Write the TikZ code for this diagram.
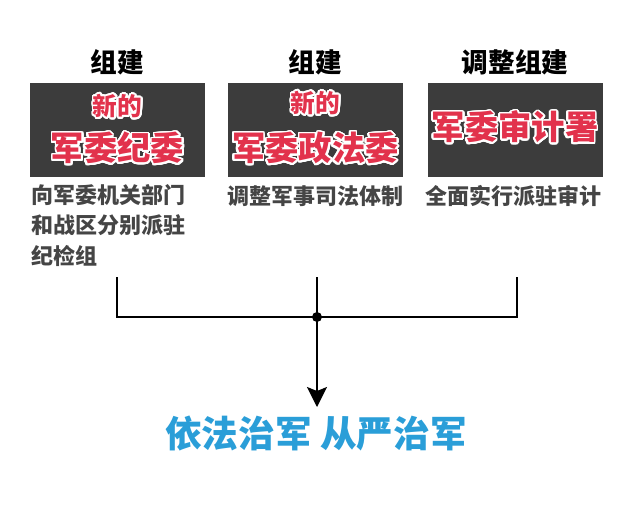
\documentclass[tikz,border=0pt]{standalone}
\usepackage{fontspec}
\setmainfont{Noto Sans CJK SC}
\usepackage{contour}
\usetikzlibrary{positioning, arrows.meta}
\definecolor{boxgray}{HTML}{3C3C3C}
\definecolor{tred}{HTML}{E2324C}
\definecolor{descgray}{HTML}{454545}
\definecolor{goalblue}{HTML}{2A9ED8}
\contourlength{1.3pt}
\contournumber{32}
\newcommand\redword[1]{\contour{white}{\textcolor{tred}{#1}}}

\begin{document}
\begin{tikzpicture}[x=0.75pt, y=-0.75pt,
  unit/.style={fill=boxgray, minimum width=131.25pt, minimum height=70.5pt, inner sep=0pt},
  head/.style={font=\fontsize{20}{22}\selectfont\bfseries, text=black, inner sep=0pt},
  small/.style={font=\fontsize{18.5}{20}\selectfont\bfseries, inner sep=0pt},
  big/.style={font=\fontsize{25}{27}\selectfont\bfseries, inner sep=0pt},
  desc/.style={font=\fontsize{16.5}{23}\selectfont\bfseries, text=descgray, align=left, inner sep=0pt},
  link/.style={line width=1.5pt}]
  \useasboundingbox (0,0) rectangle (640,512);

  % three units
  \node[unit] (b1) at (117.5,130) {};
  \node[unit] (b2) at (315.5,130) {};
  \node[unit] (b3) at (515,130) {};
  \node[head, above=5.5pt of b1] (h1) {组建};
  \node[head, above=5.5pt of b2] (h2) {组建};
  \node[head, above=5.5pt of b3] (h3) {调整组建};

  \node[small] (n1) at (117.5,107) {\redword{新的}};
  \node[big] (m1) at (117.5,149) {\redword{军委纪委}};
  \node[small] (n2) at (315.5,104) {\redword{新的}};
  \node[big] (m2) at (315.5,149) {\redword{军委政法委}};
  \node[big] (m3) at (515,128) {\redword{军委审计署}};

  \node[desc, anchor=north west] (d1) at (31,184) {向军委机关部门\\和战区分别派驻\\纪检组};
  \node[desc, anchor=north west] (d2) at (227,185) {调整军事司法体制};
  \node[desc, anchor=north west] (d3) at (425,185) {全面实行派驻审计};

  % bracket and arrow
  \coordinate (t1) at (117,277);
  \coordinate (t2) at (317,277);
  \coordinate (t3) at (517,277);
  \node[circle, fill=black, inner sep=0pt, minimum size=7.5pt] (j) at (317,317) {};
  \node[font=\fontsize{27.5}{30}\selectfont\bfseries, text=goalblue, inner sep=0pt] (goal) at (316,434) {依法治军 从严治军};
  \draw[link] (t1) |- (j.center) -| (t3);
  \draw[link] (t2) -- (j.center);
  \draw[link, -{Stealth[length=15pt, width=15pt, inset=3pt]}] (j.center) -- (317,407);
\end{tikzpicture}
\end{document}
